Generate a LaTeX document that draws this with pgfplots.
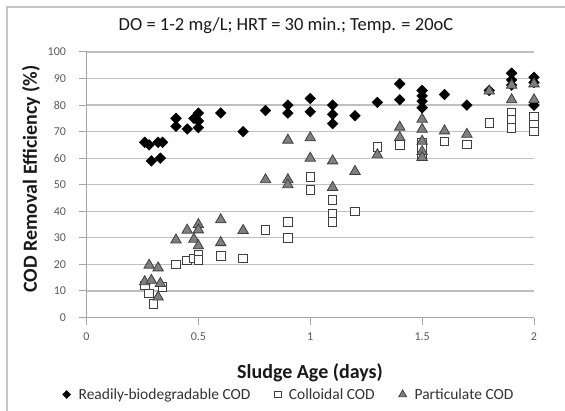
\documentclass[border=0pt]{standalone}
\usepackage{fontspec}
\setmainfont{Carlito}
\usepackage{pgfplots}
\pgfplotsset{compat=1.18}
\definecolor{gridgray}{HTML}{BFBFBF}
\definecolor{axgray}{HTML}{A6A6A6}
\definecolor{txtgray}{HTML}{595959}
\definecolor{trifill}{HTML}{7F7F7F}
\definecolor{edge}{HTML}{3F3F3F}
\begin{document}
\begin{tikzpicture}[x=1pt,y=1pt]
\draw[gray!45, line width=1.5pt] (7,-5) -- (7,403) -- (575,403);
\begin{axis}[
  at={(86.5pt,92.5pt)}, anchor=south west,
  scale only axis, width=447.5pt, height=265.5pt,
  xmin=0, xmax=2, ymin=0, ymax=100,
  xtick={0,0.5,1,1.5,2}, ytick={0,10,...,100},
  axis lines=left, axis line style={-, axgray, line width=1pt},
  ymajorgrids, grid style={gridgray, line width=1.3pt},
  tick style={axgray, line width=1pt}, tick align=outside, major tick length=7pt,
  /pgf/number format/assume math mode=true,
  ticklabel style={font=\fontsize{12}{13}\selectfont, text=txtgray},
  xticklabel style={yshift=-5pt},
  yticklabel style={xshift=-10pt},
  clip=false,
  legend style={at={(axis description cs:0.4525,-0.29)}, anchor=center, draw=none,
    font=\fontsize{15.5}{17}\selectfont, text=black!80, legend columns=3,
    /tikz/every odd column/.append style={column sep=6pt},
    /tikz/every even column/.append style={column sep=22pt}},
  legend image code/.code={\draw[#1, every mark/.append style={scale=0.75}] plot coordinates {(0cm,0cm)};},
]
\addplot[only marks, mark=square*, mark size=3.8pt, mark options={rotate=45, fill=black, draw=black}]
coordinates {
(0.26,66) (0.28,65) (0.29,59) (0.32,66) (0.33,60) (0.34,66)
(0.40,75) (0.40,72) (0.45,71) (0.48,75) (0.50,77) (0.50,74) (0.50,71.5)
(0.60,77) (0.70,70) (0.80,78) (0.90,80) (0.90,77) (1.00,82.5) (1.00,77.5)
(1.10,80) (1.10,76.5) (1.10,73) (1.20,76) (1.30,81) (1.40,88) (1.40,82)
(1.50,85.5) (1.50,83.5) (1.50,81.5) (1.50,79) (1.60,84) (1.70,80) (1.80,85.5)
(1.90,92) (1.90,89.5) (1.90,87.5) (2.00,90.5) (2.00,88.5) (2.00,80)
};
\addlegendentry{Readily-biodegradable COD}
\addplot[only marks, mark=square*, mark size=4.3pt, mark options={fill=white, draw=edge, line width=0.9pt}]
coordinates {
(0.26,12) (0.28,9) (0.30,5) (0.34,11.6) (0.40,20) (0.45,21.5) (0.48,22.2)
(0.50,23.5) (0.50,21.7) (0.60,23.2) (0.70,22.3) (0.80,33) (0.90,36) (0.90,30)
(1.00,53) (1.00,48) (1.10,44.3) (1.10,39) (1.10,36) (1.20,40) (1.30,64.2)
(1.40,65) (1.50,66) (1.50,64) (1.50,61) (1.60,66.3) (1.70,65.2) (1.80,73.2)
(1.90,77) (1.90,74.4) (1.90,71.5) (2.00,75.7) (2.00,72.5) (2.00,70)
};
\addlegendentry{Colloidal COD}
\addplot[only marks, mark=triangle*, mark size=6pt, mark options={fill=trifill, draw=edge, line width=0.8pt}]
coordinates {
(0.26,13.5) (0.28,19.7) (0.29,14) (0.32,18.7) (0.32,7.7) (0.33,12.8)
(0.40,29.2) (0.45,32.9) (0.48,29.5) (0.50,35) (0.50,33) (0.50,27)
(0.60,36.8) (0.60,28.2) (0.70,32.8) (0.80,51.9) (0.90,66.8) (0.90,51.9) (0.90,50)
(1.00,67.7) (1.00,60) (1.10,59) (1.10,49) (1.20,55) (1.30,61.3)
(1.40,71.7) (1.40,67.8) (1.50,74.7) (1.50,70.9) (1.50,66.4) (1.50,62.5) (1.50,60.3)
(1.60,70.3) (1.70,69) (1.80,85.3) (1.90,87.5) (1.90,82) (2.00,88) (2.00,82)
};
\addlegendentry{Particulate COD}
\end{axis}
\node[font=\fontsize{18.5}{20}\selectfont, text=black!90] at (286,384) {DO = 1-2 mg/L; HRT = 30 min.; Temp. = 20oC};
\node[rotate=90, font=\bfseries\fontsize{20}{22}\selectfont, text=black!90] at (31,231) {COD Removal Efficiency (\%)};
\node[font=\bfseries\fontsize{20}{22}\selectfont, text=black!90] at (310,37) {Sludge Age (days)};
\pgfresetboundingbox
\useasboundingbox (0,0) rectangle (565,410);
\end{tikzpicture}
\end{document}
